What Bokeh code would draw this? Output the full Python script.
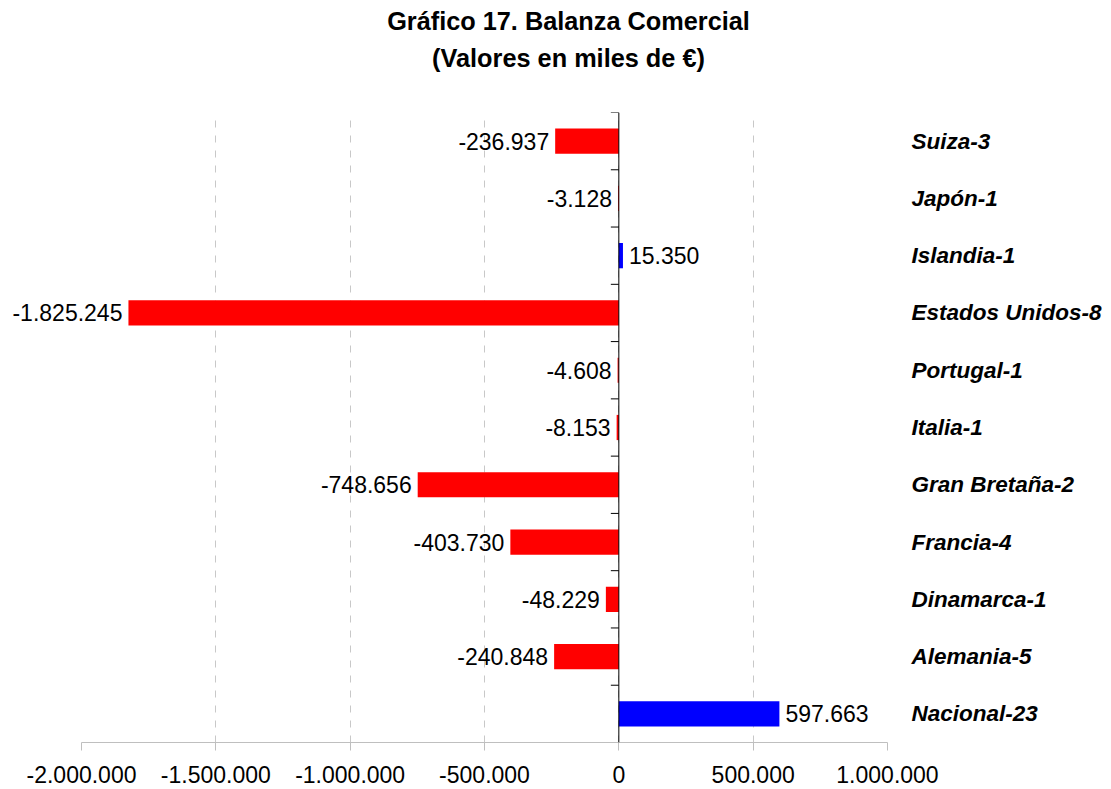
import math
from bokeh.plotting import figure
from bokeh.layouts import column
from bokeh.models import (FactorRange, Range1d, Span, LabelSet, ColumnDataSource,
                          FixedTicker, CustomJSTickFormatter)
from bokeh.core.properties import value
from bokeh.embed import file_html
from bokeh.resources import INLINE

# ---- data ----
categories = ["Suiza-3", "Japón-1", "Islandia-1", "Estados Unidos-8", "Portugal-1",
              "Italia-1", "Gran Bretaña-2", "Francia-4", "Dinamarca-1", "Alemania-5",
              "Nacional-23"]
values = [-236937, -3128, 15350, -1825245, -4608, -8153, -748656, -403730, -48229,
          -240848, 597663]
x_ticks = [-2000000, -1500000, -1000000, -500000, 0, 500000, 1000000]
title_lines = ["Gráfico 17. Balanza Comercial", "(Valores en miles de €)"]

FONT = "Liberation Sans"
W = 1105
TITLE_H = 112
TOTAL_H = 789
LEFT, RIGHT = 8, 218


def fmt(v):
    return f"{v:,}".replace(",", ".")


# ---- title strip (pixel-like coordinates) ----
t = figure(width=W, height=TITLE_H, output_backend="svg", toolbar_location=None,
           x_range=Range1d(LEFT, W - RIGHT), y_range=Range1d(TITLE_H, 0),
           min_border_left=LEFT, min_border_right=RIGHT, min_border_top=0,
           min_border_bottom=0, x_axis_location=None, y_axis_location=None)
t.outline_line_color = None
t.grid.visible = False
t.text(x=[568, 568], y=[20, 57], text=title_lines, text_align="center",
       text_baseline="middle", text_font=value(FONT), text_font_size="25.3px",
       text_font_style="bold", text_color="black")

# ---- main chart ----
factors = list(reversed(categories))
# frame extends left of the axis start so the long value label is not clipped
p = figure(width=W, height=TOTAL_H - TITLE_H, output_backend="svg",
           toolbar_location=None,
           x_range=Range1d(-2271700, x_ticks[-1]),
           y_range=FactorRange(factors=factors),
           y_axis_location="right", title=None,
           min_border_left=LEFT, min_border_right=RIGHT, min_border_top=0,
           min_border_bottom=47)
p.outline_line_color = None
p.background_fill_color = "white"

# grid
p.ygrid.visible = False
p.xgrid.ticker = FixedTicker(ticks=x_ticks[1:])
p.xgrid.bounds = (x_ticks[0] - 1, x_ticks[-1] + 1)
p.xgrid.grid_line_color = "#C8C8C8"
p.xgrid.grid_line_dash = "7 8"

# bottom axis
xa = p.xaxis[0]
xa.bounds = (x_ticks[0], x_ticks[-1])
xa.ticker = FixedTicker(ticks=x_ticks)
xa.formatter = CustomJSTickFormatter(
    code='return String(tick).replace(/\\B(?=(\\d{3})+(?!\\d))/g, ".");')
xa.axis_line_color = "#BFBFBF"
xa.major_tick_line_color = "#BFBFBF"
xa.major_tick_out = 8
xa.major_tick_in = 0
xa.minor_tick_line_color = None
xa.major_label_text_font = FONT
xa.major_label_text_font_size = "23px"
xa.major_label_text_color = "black"
xa.major_label_standoff = 15

# right category axis
ya = p.yaxis[0]
ya.axis_line_color = None
ya.major_tick_line_color = None
ya.major_tick_out = 0
ya.major_tick_in = 0
ya.major_label_standoff = 24
ya.major_label_text_font = FONT
ya.major_label_text_font_size = "22.5px"
ya.major_label_text_font_style = "bold italic"
ya.major_label_text_color = "black"

# bars
colors = ["#FF0000" if v < 0 else "#0000FF" for v in values]
p.hbar(y=categories, left=0, right=values, height=0.44, fill_color=colors,
       line_color=None)

# zero axis line with category tick marks
p.add_layout(Span(location=0, dimension="height", line_color="black", line_width=1))
n = len(categories)
p.ray(x=[0] * (n + 1), y=list(range(n + 1)), length=8, length_units="screen",
      angle=math.pi, line_color="black", line_width=1)

# value labels
src = ColumnDataSource(dict(
    x=values, y=categories, text=[fmt(v) for v in values],
    align=["right" if v < 0 else "left" for v in values],
    off=[-6 if v < 0 else 6 for v in values],
))
p.add_layout(LabelSet(x="x", y="y", text="text", source=src, text_align="align",
                      x_offset="off", text_baseline="middle", text_font=value(FONT),
                      text_font_size="23px", text_color="black"))

layout = column(t, p, spacing=0)
open("out.html", "w").write(file_html(layout, INLINE))
